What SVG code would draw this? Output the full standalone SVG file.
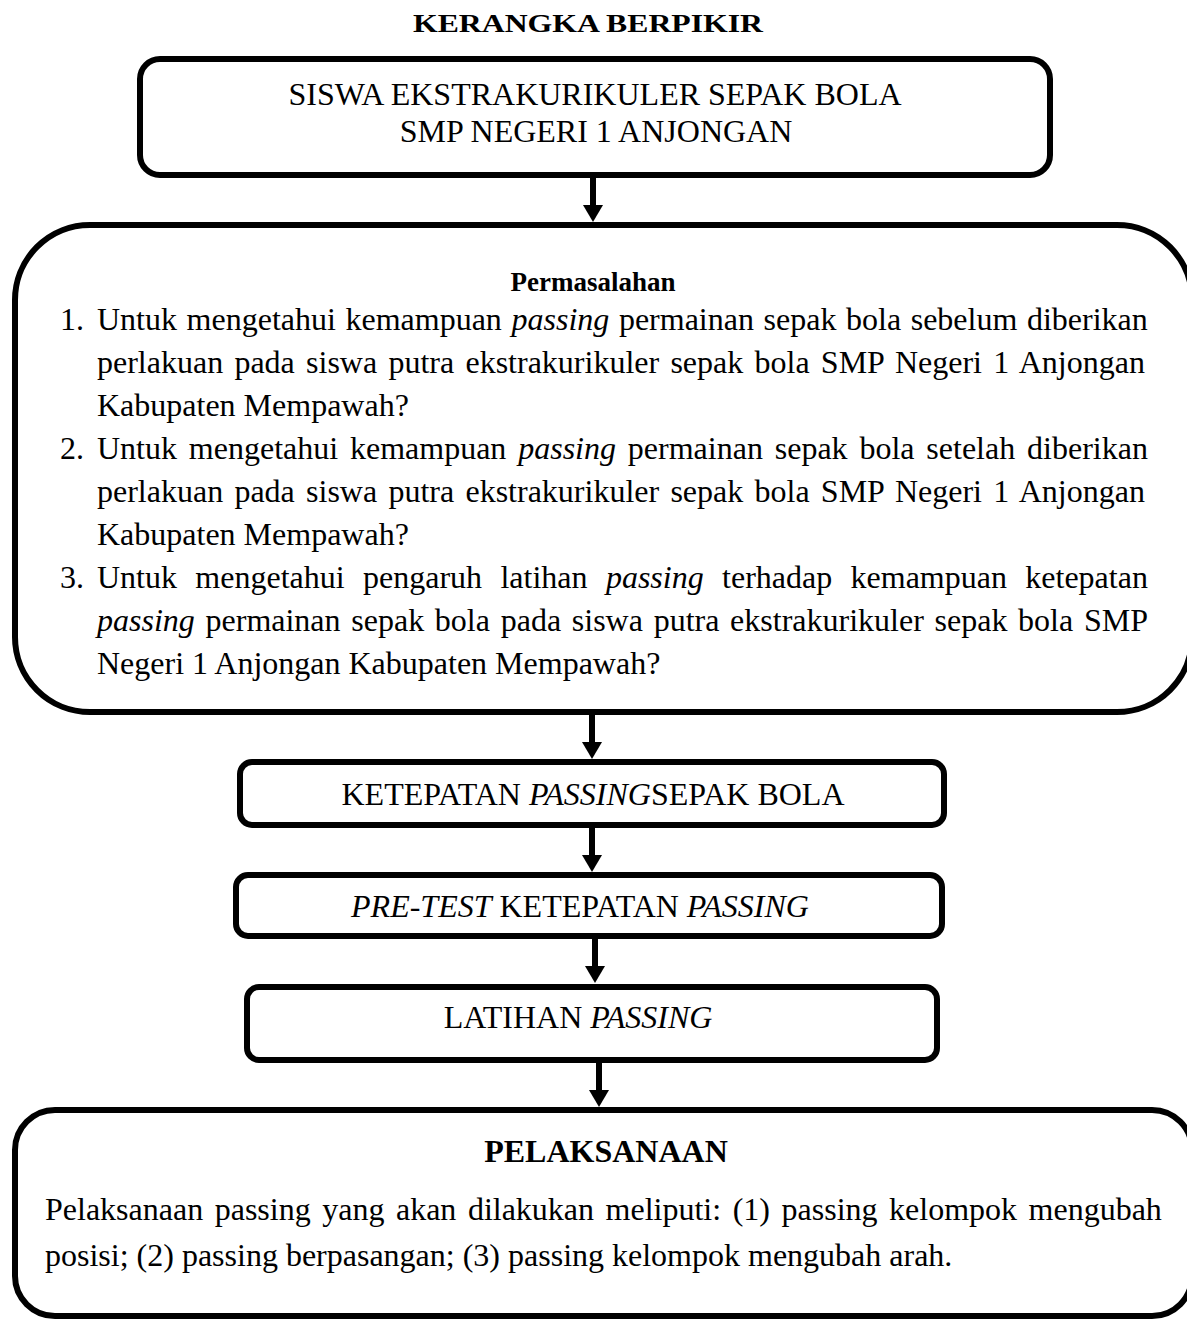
<svg xmlns="http://www.w3.org/2000/svg" width="1187" height="1320" viewBox="0 0 1187 1320">
<style>
text{font-family:"Liberation Serif","Times New Roman",serif;fill:#000;font-size:32px}
.b{font-weight:bold}
.i{font-style:italic}
.c{text-anchor:middle}
.t{font-size:25px}
.h{font-size:27px}
.box{fill:#fff;stroke:#000;stroke-width:6}
.con{stroke:#000;stroke-width:6;fill:none}
</style>
<defs>
<marker id="ah" viewBox="0 0 17 20" refX="2" refY="10" markerWidth="17" markerHeight="20" markerUnits="userSpaceOnUse" orient="auto">
<path d="M0,0 L17,10 L0,20 z" fill="#000"/>
</marker>
</defs>
<text class="b t" x="413" y="32" textLength="350" lengthAdjust="spacingAndGlyphs">KERANGKA BERPIKIR</text>
<g id="connectors">
<path class="con" d="M593,178 V207" marker-end="url(#ah)"/>
<path class="con" d="M592,712 V744" marker-end="url(#ah)"/>
<path class="con" d="M592,825 V857" marker-end="url(#ah)"/>
<path class="con" d="M595,936 V968" marker-end="url(#ah)"/>
<path class="con" d="M599,1060 V1092" marker-end="url(#ah)"/>
</g>
<g id="siswa">
<rect class="box" x="140" y="59" width="910" height="116" rx="20"/>
<text class="c" x="595" y="105">SISWA EKSTRAKURIKULER SEPAK BOLA</text>
<text class="c" x="596" y="142">SMP NEGERI 1 ANJONGAN</text>
</g>
<g id="permasalahan">
<rect class="box" x="15" y="225" width="1177" height="487" rx="75"/>
<text class="b c h" x="593" y="291">Permasalahan</text>
<text x="60" y="330">1.</text>
<text x="97" y="330" word-spacing="1.6">Untuk mengetahui kemampuan <tspan class="i">passing</tspan> permainan sepak bola sebelum diberikan</text>
<text x="97" y="373" word-spacing="3.25">perlakuan pada siswa putra ekstrakurikuler sepak bola SMP Negeri 1 Anjongan</text>
<text x="97" y="416">Kabupaten Mempawah?</text>
<text x="60" y="459">2.</text>
<text x="97" y="459" word-spacing="3.84">Untuk mengetahui kemampuan <tspan class="i">passing</tspan> permainan sepak bola setelah diberikan</text>
<text x="97" y="502" word-spacing="3.25">perlakuan pada siswa putra ekstrakurikuler sepak bola SMP Negeri 1 Anjongan</text>
<text x="97" y="545">Kabupaten Mempawah?</text>
<text x="60" y="588">3.</text>
<text x="97" y="588" word-spacing="10.36">Untuk mengetahui pengaruh latihan <tspan class="i">passing</tspan> terhadap kemampuan ketepatan</text>
<text x="97" y="631" word-spacing="2.72"><tspan class="i">passing</tspan> permainan sepak bola pada siswa putra ekstrakurikuler sepak bola SMP</text>
<text x="97" y="674">Negeri 1 Anjongan Kabupaten Mempawah?</text>
</g>
<g id="ketepatan">
<rect class="box" x="240" y="762" width="704" height="63" rx="12"/>
<text class="c" x="593" y="805">KETEPATAN <tspan class="i">PASSING</tspan>SEPAK BOLA</text>
</g>
<g id="pretest">
<rect class="box" x="236" y="875" width="706" height="61" rx="12"/>
<text class="c" x="580" y="917"><tspan class="i">PRE-TEST</tspan> KETEPATAN <tspan class="i">PASSING</tspan></text>
</g>
<g id="latihan">
<rect class="box" x="247" y="987" width="690" height="73" rx="12"/>
<text class="c" x="578" y="1028">LATIHAN <tspan class="i">PASSING</tspan></text>
</g>
<g id="pelaksanaan">
<rect class="box" x="15" y="1110" width="1177" height="206" rx="40"/>
<text class="b c" x="606" y="1162">PELAKSANAAN</text>
<text x="45" y="1220" word-spacing="3.53">Pelaksanaan passing yang akan dilakukan meliputi: (1) passing kelompok mengubah</text>
<text x="45" y="1266">posisi; (2) passing berpasangan; (3) passing kelompok mengubah arah.</text>
</g>
</svg>
